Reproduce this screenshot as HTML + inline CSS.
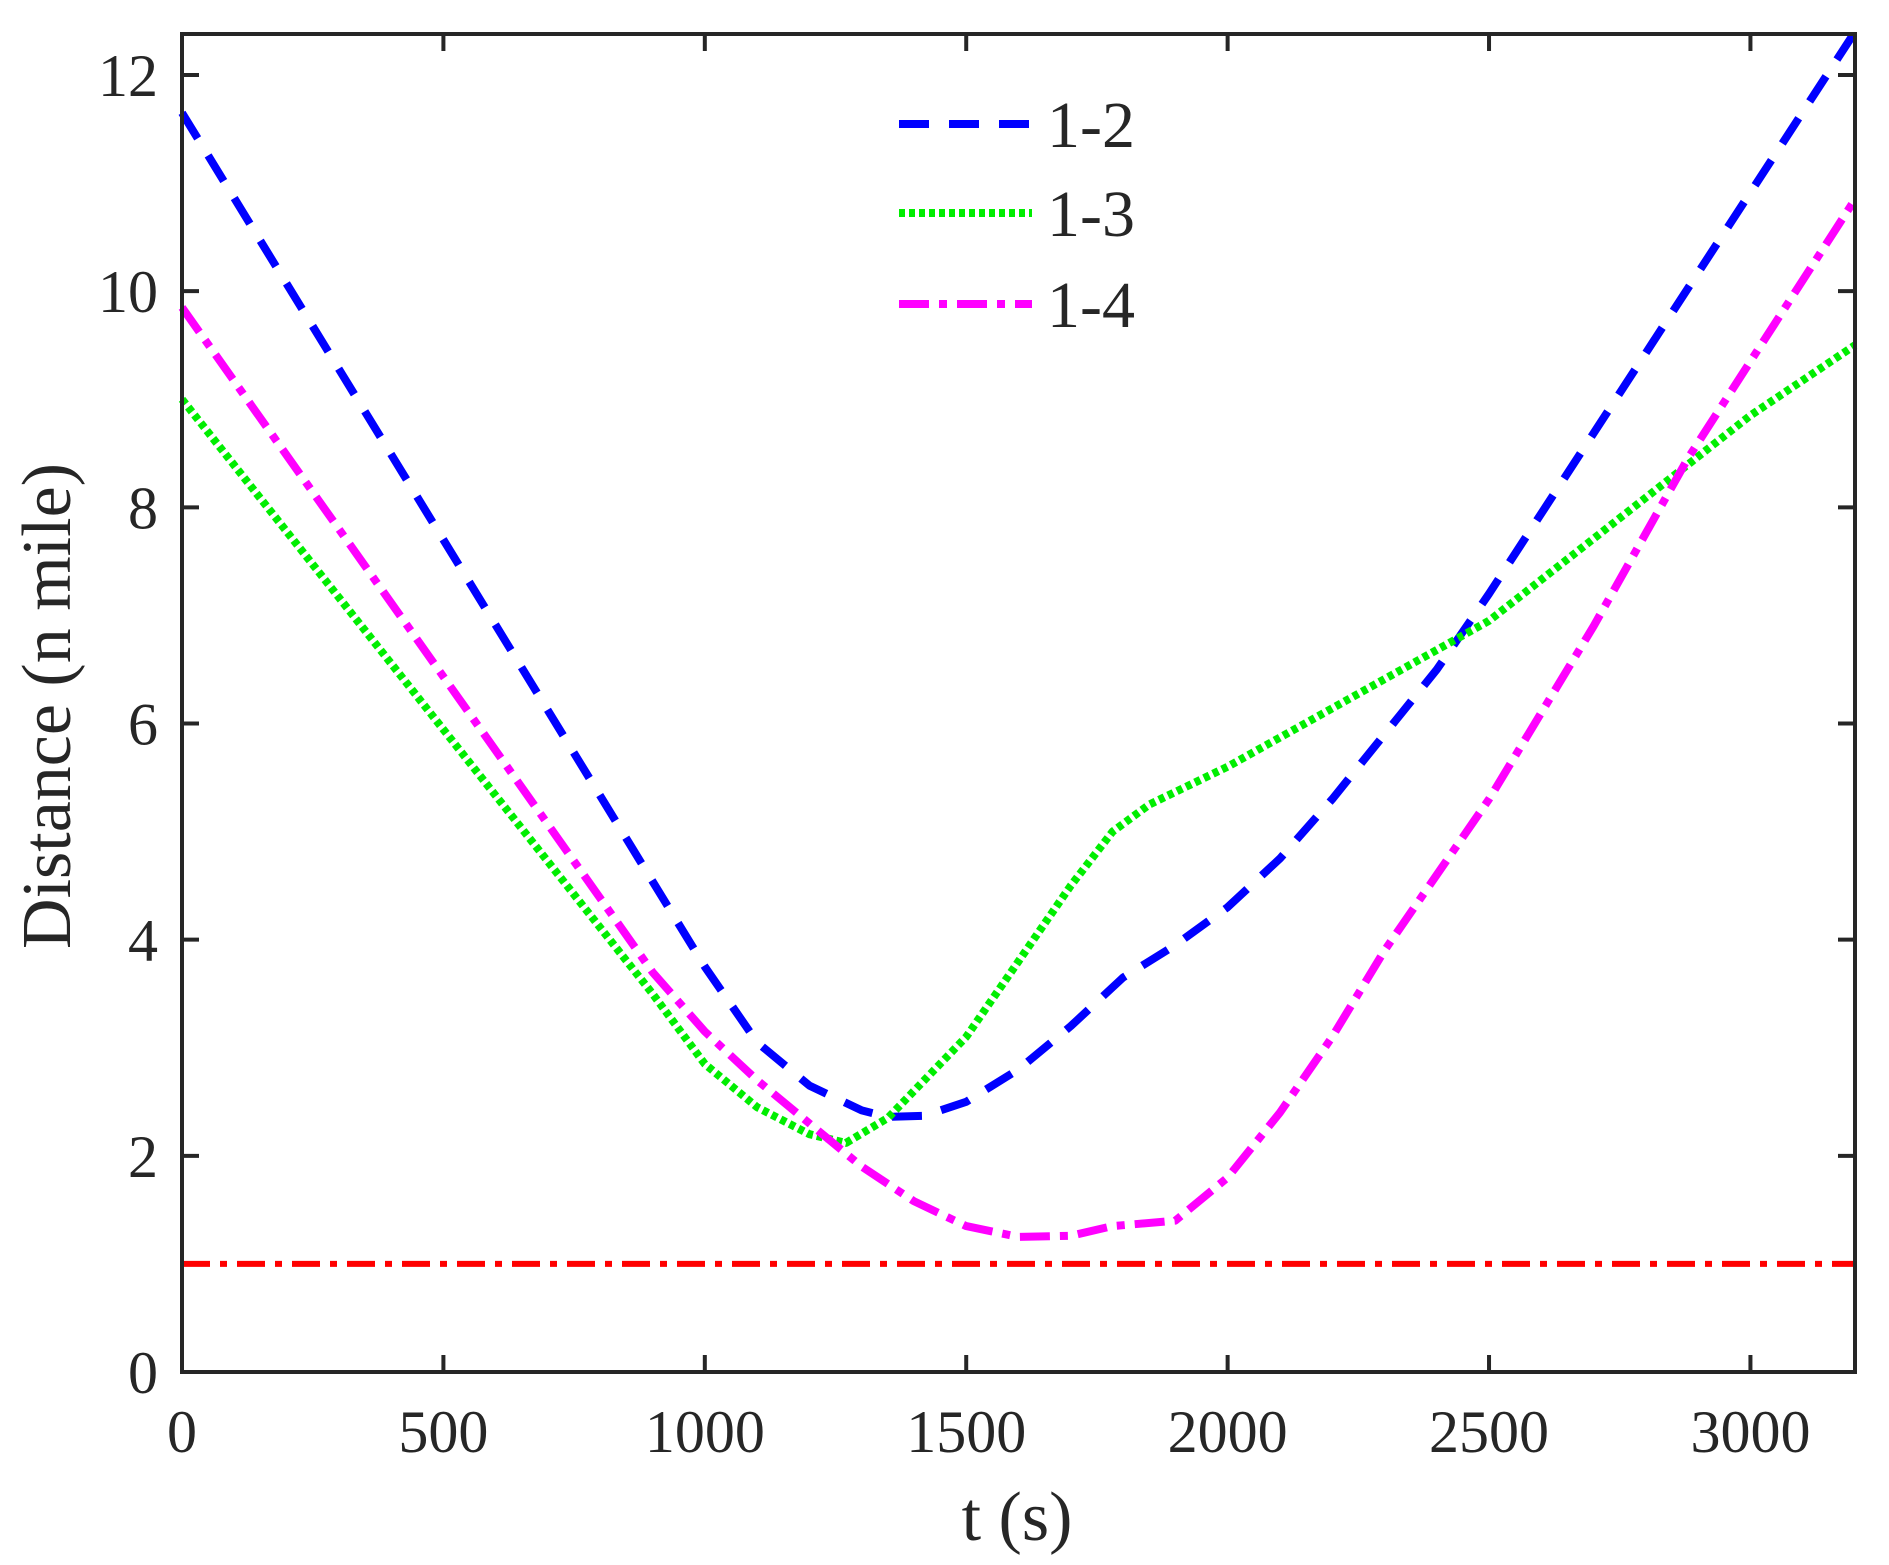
<!DOCTYPE html>
<html><head><meta charset="utf-8"><style>
html,body{margin:0;padding:0;background:#fff;}
svg{display:block;font-family:"Liberation Serif",serif;}
</style></head><body>
<svg id="s" width="1889" height="1565" xmlns="http://www.w3.org/2000/svg"></svg>
<script>
const s=document.getElementById('s');
const L=182,R=1855,T=34,B=1372;
const X=t=>L+(R-L)*t/3200, Y=v=>B-(B-75)*v/12;
let h='';
function pl(pts,col,dash,w){
  h+=`<polyline fill="none" stroke="${col}" stroke-width="${w}" stroke-dasharray="${dash}" stroke-linejoin="round" points="${pts.map(p=>X(p[0]).toFixed(1)+','+Y(p[1]).toFixed(1)).join(' ')}"/>`;
}
pl([[0,1],[3200,1]],'#ff0000','28,10,7,10',6);
pl([[0,11.65],[1000,3.75],[1100,3.05],[1200,2.65],[1300,2.42],[1350,2.36],[1420,2.37],[1500,2.5],[1600,2.8],[1700,3.2],[1800,3.65],[1900,3.95],[2000,4.3],[2100,4.75],[2200,5.3],[2300,5.9],[2400,6.5],[2500,7.2],[3200,12.4]],'#0000ff','30,20',8);
pl([[0,9.0],[900,3.5],[1000,2.85],[1100,2.45],[1200,2.2],[1270,2.12],[1350,2.35],[1500,3.1],[1600,3.8],[1700,4.5],[1780,5.0],[1850,5.25],[2000,5.6],[2500,6.95],[3000,8.85],[3200,9.5]],'#00ee00','6,4',8);
pl([[0,9.85],[900,3.7],[1000,3.15],[1100,2.7],[1200,2.3],[1300,1.9],[1400,1.58],[1500,1.35],[1600,1.25],[1700,1.26],[1780,1.35],[1900,1.4],[2000,1.8],[2100,2.4],[2200,3.1],[2300,3.9],[2500,5.3],[2700,6.9],[2880,8.45],[3000,9.35],[3200,10.85]],'#ff00ff','30,10,8,10',8);
h+=`<rect x="${L}" y="${T}" width="${R-L}" height="${B-T}" fill="none" stroke="#262626" stroke-width="4"/>`;
for(let t=0;t<=3000;t+=500){const x=X(t);
  h+=`<line x1="${x}" y1="${B}" x2="${x}" y2="${B-17}" stroke="#262626" stroke-width="4"/><line x1="${x}" y1="${T}" x2="${x}" y2="${T+17}" stroke="#262626" stroke-width="4"/>`;
  h+=`<text x="${x}" y="1452" font-size="60" text-anchor="middle" fill="#262626">${t}</text>`;}
for(let v=0;v<=12;v+=2){const y=Y(v);
  h+=`<line x1="${L}" y1="${y}" x2="${L+17}" y2="${y}" stroke="#262626" stroke-width="4"/><line x1="${R}" y1="${y}" x2="${R-17}" y2="${y}" stroke="#262626" stroke-width="4"/>`;
  h+=`<text x="158" y="${y+21}" font-size="60" text-anchor="end" fill="#262626">${v}</text>`;}
h+=`<text x="1017" y="1540" font-size="70" text-anchor="middle" fill="#262626">t (s)</text>`;
h+=`<text transform="translate(70,706) rotate(-90)" font-size="70" text-anchor="middle" fill="#262626">Distance (n mile)</text>`;
h+=`<line x1="899" y1="124" x2="1032" y2="124" stroke="#0000ff" stroke-width="8" stroke-dasharray="30,20"/>`;
h+=`<line x1="899" y1="213" x2="1032" y2="213" stroke="#00ee00" stroke-width="8" stroke-dasharray="6,4"/>`;
h+=`<line x1="899" y1="304" x2="1032" y2="304" stroke="#ff00ff" stroke-width="8" stroke-dasharray="30,10,8,10"/>`;
[['1-2',124],['1-3',213],['1-4',304]].forEach(a=>{h+=`<text x="1047" y="${a[1]+23}" font-size="66" fill="#262626">${a[0]}</text>`;});
s.innerHTML=h;
</script>
</body></html>
